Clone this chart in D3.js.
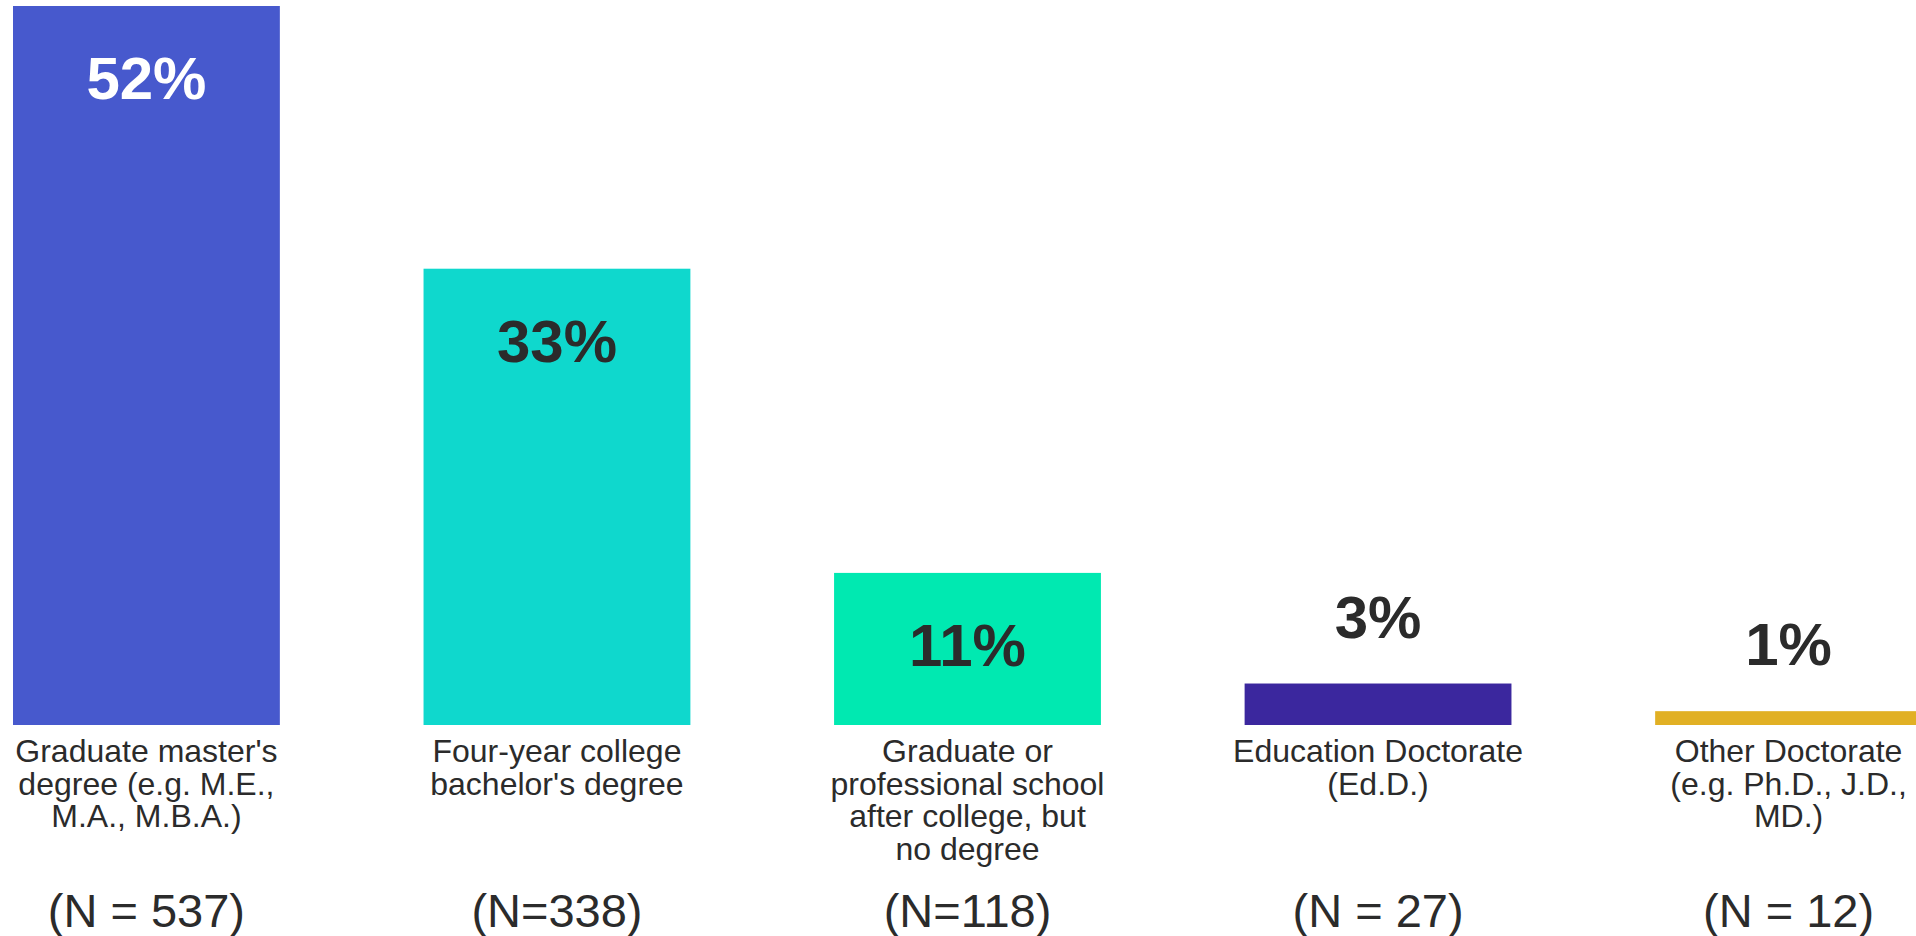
<!DOCTYPE html>
<html>
<head>
<meta charset="utf-8">
<script src="https://cdn.jsdelivr.net/npm/d3@7"></script>
<style>
    html, body { margin: 0; padding: 0; background: #fff; overflow: hidden; }
    text { font-family: "Liberation Sans", Arial, sans-serif; }
</style>
</head>
<body>
<div id="chart"></div>
<script>

// category labels, already split into lines
let categories = [
    ["Graduate master's", "degree (e.g. M.E.,", "M.A., M.B.A.)"],
    ["Four-year college", "bachelor's degree"],
    ["Graduate or", "professional school", "after college, but", "no degree"],
    ["Education Doctorate", "(Ed.D.)"],
    ["Other Doctorate", "(e.g. Ph.D., J.D.,", "MD.)"]
];
let percents = [52, 33, 11, 3, 1];
let nLabels = ["(N = 537)", "(N=338)", "(N=118)", "(N = 27)", "(N = 12)"];

let barColors = ["#4759cd", "#0fd8cd", "#00e9b1", "#3b279e", "#e1b024"];

let width = 1916, height = 936;
let baseY = 725;

let svg = d3.select("#chart").append("svg")
    .attr("width", width)
    .attr("height", height);

let rows = percents.map((p, i) => ({ key: i, lines: categories[i], value: p, n: nLabels[i], color: barColors[i] }));

let xScale = d3.scaleBand()
    .domain(rows.map(d => d.key))
    .range([13, 1922])
    .paddingInner(0.35)
    .paddingOuter(0);

let yScale = d3.scaleLinear()
    .domain([0, 52])
    .range([baseY, 6]);

// bars
svg.selectAll("rect.bar")
    .data(rows)
    .enter().append("rect")
    .attr("class", "bar")
    .attr("x", d => xScale(d.key))
    .attr("y", d => yScale(d.value))
    .attr("width", xScale.bandwidth())
    .attr("height", d => baseY - yScale(d.value))
    .attr("fill", d => d.color);

// value labels: inside the bar when it is tall enough, otherwise above it
svg.selectAll("text.value")
    .data(rows)
    .enter().append("text")
    .attr("class", "value")
    .attr("x", d => xScale(d.key) + xScale.bandwidth() / 2)
    .attr("y", d => {
        let top = yScale(d.value);
        return (baseY - top > 120) ? top + 93 : top - 46;
    })
    .attr("text-anchor", "middle")
    .attr("font-size", "60px")
    .attr("font-weight", "bold")
    .attr("fill", d => {
        let inside = baseY - yScale(d.value) > 120;
        return (inside && d3.lab(d.color).l < 60) ? "#ffffff" : "#2b2b2b";
    })
    .text(d => d.value + "%");

// category labels
let cat = svg.selectAll("text.cat")
    .data(rows)
    .enter().append("text")
    .attr("class", "cat")
    .attr("text-anchor", "middle")
    .attr("font-size", "32px")
    .attr("fill", "#2b2b2b");

cat.selectAll("tspan")
    .data(d => d.lines.map(l => ({ line: l, cx: xScale(d.key) + xScale.bandwidth() / 2 })))
    .enter().append("tspan")
    .attr("x", d => d.cx)
    .attr("y", (d, i) => 762 + i * 32.5)
    .text(d => d.line);

// N counts
svg.selectAll("text.n")
    .data(rows)
    .enter().append("text")
    .attr("class", "n")
    .attr("x", d => xScale(d.key) + xScale.bandwidth() / 2)
    .attr("y", 927)
    .attr("text-anchor", "middle")
    .attr("font-size", "47px")
    .attr("fill", "#2b2b2b")
    .text(d => d.n);

</script>
</body>
</html>
